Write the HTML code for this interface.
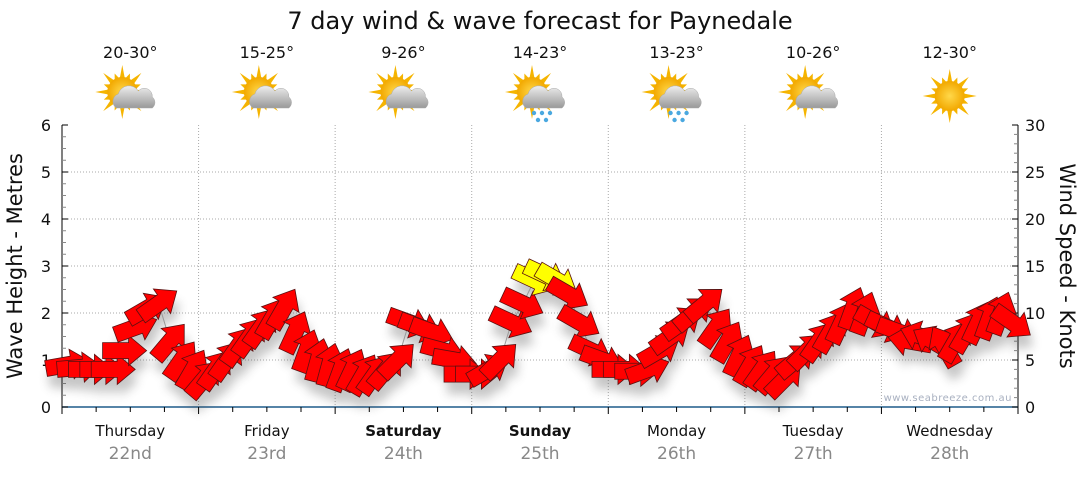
<!DOCTYPE html>
<html><head><meta charset="utf-8"><style>
body{margin:0;background:#fff;width:1080px;height:475px;overflow:hidden;font-family:"Liberation Sans","DejaVu Sans",sans-serif}
</style></head><body>
<svg id="chart" width="1080" height="475" xmlns="http://www.w3.org/2000/svg" font-family="'DejaVu Sans','Liberation Sans',sans-serif">
<defs>
<filter id="sh" x="-50%" y="-50%" width="200%" height="200%"><feGaussianBlur stdDeviation="5"/></filter>
<radialGradient id="sun" cx="50%" cy="50%" r="50%"><stop offset="0" stop-color="#ffd84a"/><stop offset="1" stop-color="#f2a800"/></radialGradient>
<linearGradient id="cloud" x1="0" y1="0" x2="0" y2="1"><stop offset="0" stop-color="#eee"/><stop offset="1" stop-color="#999"/></linearGradient>
</defs>
<text x="540" y="29" text-anchor="middle" font-size="24" fill="#111">7 day wind &amp; wave forecast for Paynedale</text>
<g id="grid"></g>
<g id="axes"></g>
<g id="icons"></g>
<g id="shadows" filter="url(#sh)" opacity="0.3"></g>
<polyline id="wline" fill="none" stroke="#999" stroke-width="1"/>
<g id="arrows"></g>
<text x="1012" y="401" text-anchor="end" font-size="10" fill="#a8b0c0" letter-spacing="0.5">www.seabreeze.com.au</text>
<text transform="translate(22,266) rotate(-90)" text-anchor="middle" font-size="21" fill="#111">Wave Height - Metres</text>
<text transform="translate(1060,266) rotate(90)" text-anchor="middle" font-size="21" fill="#111">Wind Speed - Knots</text>
</svg>
<script>
const days=["Thursday","Friday","Saturday","Sunday","Monday","Tuesday","Wednesday"];
const dates=["22nd","23rd","24th","25th","26th","27th","28th"];
const temps=["20-30°","15-25°","9-26°","14-23°","13-23°","10-26°","12-30°"];
const icons=["cloud","cloud","cloud","rain","rain","cloud","sun"];
const bold=[false,false,true,true,false,false,false];
const waveTicks=[0,1,2,3,4,5,6];
const windTicks=[0,5,10,15,20,25,30];
const windSpeed=[
4.5,4.2,4,4,4,6,8.5,10.5,11,7,5,4,
3,4,5,6.5,7.5,8.5,9.5,10.5,8,6,5,4.5,
4,4,3.5,3.5,4,5,9,8.5,8,6,5,3.5,
3.5,4,5,9,11,13.5,14,13.5,12,9,6,5,
4,4,3.8,4,6,7.5,9,10,11,8.5,7,5.5,
4.5,4,3.5,3,5,6,7,8,9,10.5,10,9,
8.5,8,7,7.5,7,6.5,7,8,9,9.5,10,9];
const windDir=[
-10,-5,0,0,0,0,-20,-30,-35,-50,-55,-60,
-50,-55,-55,-55,-55,-55,-60,-60,-65,-70,-75,-75,
-70,-65,-60,-55,-50,-45,20,20,20,15,10,0,
0,-30,-45,25,25,25,25,30,30,30,25,20,
0,0,0,-20,-30,-35,-35,-40,-40,-55,-60,-65,
-60,-55,-50,-45,-40,-45,-55,-60,-65,-70,-70,30,
25,20,-170,-160,-150,-120,-60,-60,-65,-70,-70,35];
const L=62,R=1018,T=125,B=407,DW=(R-L)/7;
const yW=v=>B-(v/6)*(B-T);
const yK=v=>B-(v/30)*(B-T);
const xI=i=>L+(i+0.5)*(R-L)/windSpeed.length;
const NS="http://www.w3.org/2000/svg";
function mk(tag,attrs,parent,txt){const e=document.createElementNS(NS,tag);for(const k in attrs)e.setAttribute(k,attrs[k]);if(txt!==undefined)e.textContent=txt;parent.appendChild(e);return e;}
const grid=document.getElementById('grid'),axes=document.getElementById('axes'),ic=document.getElementById('icons');
waveTicks.forEach(v=>{if(v>0&&v<6){const g=mk('line',{x1:L,x2:R,y1:yW(v),y2:yW(v),stroke:'#aaa','stroke-dasharray':'1,2'},grid);

}});
for(let d=1;d<7;d++){const g=mk('line',{x1:L+d*DW,x2:L+d*DW,y1:T,y2:B,stroke:'#aaa','stroke-dasharray':'1,2'},grid);

}
mk('line',{x1:L,x2:L,y1:T,y2:B,stroke:'#000'},axes);
mk('line',{x1:R,x2:R,y1:T,y2:B,stroke:'#000'},axes);
mk('line',{x1:L,x2:R,y1:B,y2:B,stroke:'#1f5b8a','stroke-width':1.5},axes);
for(let v=0;v<=24;v++){const y=B-v*(B-T)/24;mk('line',{x1:L,x2:L+(v%4?4:6),y1:y,y2:y,stroke:v%4?'#888':'#000'},axes);}
for(let v=0;v<=30;v++){const y=yK(v);mk('line',{x1:R,x2:R-(v%5?4:6),y1:y,y2:y,stroke:v%5?'#888':'#000'},axes);}
waveTicks.forEach(v=>{const t=mk('text',{x:51,y:yW(v)+6,'text-anchor':'end','font-size':16,fill:'#111'},axes,v);

});
windTicks.forEach(v=>{const t=mk('text',{x:1025,y:yK(v)+6,'font-size':16,fill:'#111'},axes,v);

});
for(let k=0;k<=28;k++){const x=L+k*DW/4;mk('line',{x1:x,x2:x,y1:B,y2:B+(k%4?5:7),stroke:'#000'},axes);}
days.forEach((d,i)=>{const cx=L+(i+0.5)*DW;
const t=mk('text',{x:cx,y:436,'text-anchor':'middle','font-size':15,fill:'#111','font-weight':bold[i]?'bold':'normal'},axes,d);


const t2=mk('text',{x:cx,y:459,'text-anchor':'middle','font-size':17,fill:'#888'},axes,dates[i]);


const t3=mk('text',{x:cx,y:58,'text-anchor':'middle','font-size':16,fill:'#111'},ic,temps[i]);


const g=mk('g',{transform:`translate(${cx},96)`},ic);


const sx=icons[i]=='sun'?0:-8, sy=icons[i]=='sun'?0:-4;
for(let a=0;a<16;a++){const ang=a*Math.PI/8,r1=14,r2=a%2?20:27;
mk('polygon',{points:`${sx+Math.cos(ang-0.18)*r1},${sy+Math.sin(ang-0.18)*r1} ${sx+Math.cos(ang)*r2},${sy+Math.sin(ang)*r2} ${sx+Math.cos(ang+0.18)*r1},${sy+Math.sin(ang+0.18)*r1}`,fill:'#f5b400'},g);}
mk('circle',{cx:sx,cy:sy,r:15,fill:'url(#sun)'},g);
if(icons[i]!='sun'){
mk('path',{d:'M-14,12 a8,8 0 0 1 2,-14 a11,11 0 0 1 20,-3 a8,8 0 0 1 14,6 a7,7 0 0 1 0,11 z',fill:'url(#cloud)',stroke:'#aaa','stroke-width':0.5},g);
if(icons[i]=='rain'){[[-6,17],[2,17],[10,17],[-2,24],[6,24]].forEach(p=>mk('circle',{cx:p[0],cy:p[1],r:2.2,fill:'#4aa8e0'},g));}}
});
const arrowPts="-22,-8 4,-8 4,-15 22,0 4,15 4,8 -22,8";
const sh=document.getElementById('shadows'),ar=document.getElementById('arrows');
let pts=[];
windSpeed.forEach((v,i)=>{const x=xI(i),y=yK(v);pts.push(x+','+y);
mk('polygon',{points:arrowPts,transform:`translate(${x+3},${y+12}) rotate(${windDir[i]})`,fill:'#444'},sh);
const p=mk('polygon',{points:arrowPts,transform:`translate(${x},${y}) rotate(${windDir[i]})`,fill:v>=13?'#ffff00':'#ff0000',stroke:'#5a1010','stroke-width':0.8},ar);

});
document.getElementById('wline').setAttribute('points',pts.join(' '));
</script>
</body></html>
